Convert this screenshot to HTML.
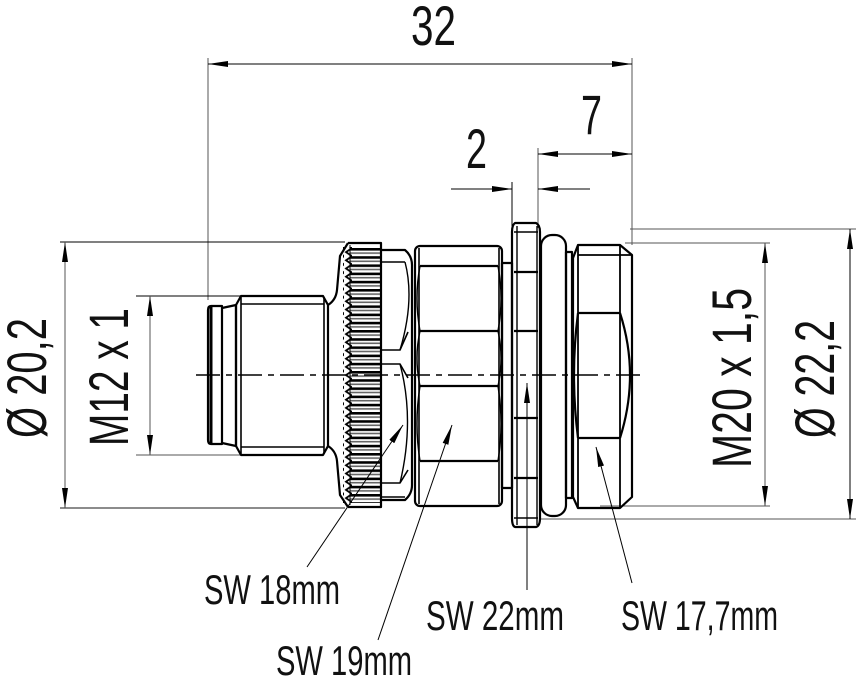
<!DOCTYPE html>
<html><head><meta charset="utf-8"><style>
html,body{margin:0;padding:0;background:#fff;}
svg{display:block;}
text{font-family:"Liberation Sans",sans-serif;fill:#111;}
</style></head><body>
<svg width="856" height="681" viewBox="0 0 856 681" xmlns="http://www.w3.org/2000/svg">
<defs>
<marker id="a" viewBox="0 0 20 6" refX="20" refY="3" markerWidth="20" markerHeight="6" markerUnits="userSpaceOnUse" orient="auto-start-reverse"><path d="M0,0 L20,3 L0,6 Z" fill="#000"/></marker>
<pattern id="stripes" x="0" y="248" width="10" height="8.2" patternUnits="userSpaceOnUse"><rect width="10" height="8.2" fill="#fff"/><rect y="0" width="10" height="2.6" fill="#000"/><rect y="4.3" width="10" height="1.6" fill="#666"/></pattern>
<pattern id="teeth" x="344" y="248" width="8" height="8.2" patternUnits="userSpaceOnUse"><path d="M8,0 L2,4.1 L8,8.2" fill="none" stroke="#000" stroke-width="1.8"/></pattern>
</defs>

<g stroke="#000" fill="none" stroke-width="1">
<line x1="208" y1="58" x2="208" y2="300" stroke="#555"/>
<line x1="632" y1="58" x2="632" y2="245" stroke="#555"/>
<line x1="208" y1="64" x2="632" y2="64" marker-start="url(#a)" marker-end="url(#a)"/>
<line x1="538" y1="148" x2="538" y2="228" stroke="#555"/>
<line x1="538" y1="154" x2="632" y2="154" marker-start="url(#a)" marker-end="url(#a)"/>
<line x1="512" y1="182" x2="512" y2="226" stroke="#000"/>
<line x1="451" y1="189" x2="512" y2="189" marker-end="url(#a)"/>
<line x1="590" y1="189" x2="538" y2="189" marker-end="url(#a)"/>
<line x1="60" y1="242" x2="345" y2="242"/>
<line x1="60" y1="508" x2="345" y2="508" stroke="#666" stroke-width="1.5"/>
<line x1="65" y1="242" x2="65" y2="508" marker-start="url(#a)" marker-end="url(#a)" stroke="#555"/>
<line x1="136" y1="296" x2="240" y2="296"/>
<line x1="136" y1="455" x2="240" y2="455" stroke="#555"/>
<line x1="150" y1="296" x2="150" y2="455" marker-start="url(#a)" marker-end="url(#a)" stroke="#555"/>
<line x1="625" y1="243" x2="770" y2="243" stroke="#555"/>
<line x1="600" y1="506" x2="770" y2="506" stroke="#555"/>
<line x1="765" y1="243" x2="765" y2="506" marker-start="url(#a)" marker-end="url(#a)" stroke="#555"/>
<line x1="630" y1="229" x2="856" y2="229" stroke="#555"/>
<line x1="540" y1="519" x2="856" y2="519" stroke="#555"/>
<line x1="850" y1="229" x2="850" y2="519" marker-start="url(#a)" marker-end="url(#a)"/>
</g>

<g stroke="#000" fill="none" stroke-width="2.2" stroke-linejoin="round">
<path d="M222,306 L211,306 Q208,306 208,310 L208,440 Q208,444 211,444 L222,444 Z"/>
<line x1="211" y1="307" x2="211" y2="443" stroke-width="3"/>
<path d="M222,308 L236,305 L236,446 L222,443"/>
<path d="M236,305 L241,296 L323,296 L328,305 L328,446 L323,455 L241,455 L236,446 Z"/>
<line x1="241" y1="304" x2="324" y2="304" stroke-width="1.6"/>
<line x1="241" y1="447" x2="324" y2="447" stroke-width="1.6"/>
<line x1="241" y1="297" x2="241" y2="454" stroke-width="1.6"/>
<line x1="324" y1="297" x2="324" y2="454" stroke-width="1.6"/>
<path d="M328,305 Q336,300 337,290 L340,256 L348,243"/>
<path d="M328,446 Q336,451 337,461 L340,495 L348,507"/>
<rect x="350" y="247" width="31" height="256" fill="url(#stripes)" stroke="none"/>
<rect x="343" y="247" width="9" height="256" fill="url(#teeth)" stroke="none"/>
<path d="M348,243 L381,243 L381,507 L348,507" />
<line x1="350" y1="245" x2="350" y2="505" stroke-width="1"/>
<path d="M381,250 L405,250 Q412,256 412,265 L412,485 Q412,494 405,500 L381,500"/>
<line x1="381" y1="262" x2="405" y2="262" stroke-width="1.6"/>
<path d="M381,350 L400,350 L408,332" stroke-width="1.6"/>
<path d="M381,364 L400,364 L408,378" stroke-width="1.6"/>
<path d="M381,483 L400,483 L408,470" stroke-width="1.6"/>
<line x1="381" y1="497" x2="405" y2="497" stroke-width="1.6"/>
<path d="M405,262 Q415,300 400,350 M400,364 Q415,420 400,483" stroke-width="1.4"/>
<rect x="415" y="246" width="87" height="260" rx="5"/>
<line x1="419" y1="248" x2="419" y2="504" stroke-width="1.6"/>
<line x1="499" y1="248" x2="499" y2="504" stroke-width="1.6"/>
<line x1="420" y1="266" x2="498" y2="266"/>
<line x1="420" y1="331" x2="498" y2="331"/>
<line x1="420" y1="386" x2="498" y2="386"/>
<line x1="420" y1="461" x2="498" y2="461"/>
<path d="M420,266 Q414,298 420,331 Q414,358 420,386 Q414,424 420,461" stroke-width="1.4"/>
<path d="M498,266 Q504,298 498,331 Q504,358 498,386 Q504,424 498,461" stroke-width="1.4"/>
<rect x="502" y="263" width="10" height="225"/>
<path d="M515,223 L536,223 Q540,225 540,232 L540,518 Q540,526 536,527 L515,527 Q512,526 512,518 L512,232 Q512,225 515,223 Z"/>
<line x1="517" y1="226" x2="517" y2="525" stroke-width="1.4"/>
<line x1="537" y1="226" x2="537" y2="525" stroke-width="1.4"/>
<line x1="514" y1="232" x2="538" y2="232" stroke-width="1.4"/>
<line x1="514" y1="272" x2="538" y2="272"/>
<line x1="514" y1="331" x2="538" y2="331"/>
<line x1="514" y1="418" x2="538" y2="418"/>
<line x1="514" y1="478" x2="538" y2="478"/>
<line x1="514" y1="518" x2="538" y2="518" stroke-width="1.4"/>
<rect x="541" y="235" width="25" height="281" rx="11"/>
<rect x="566" y="252" width="6" height="246"/>
<path d="M573,258 L578,245 L620,245 L632,255 L632,497 L620,508 L578,508 L573,497 Z"/>
<line x1="578" y1="245" x2="578" y2="508" stroke-width="1.8"/>
<line x1="620" y1="245" x2="620" y2="508" stroke-width="1.8"/>
<line x1="578" y1="255" x2="632" y2="255" stroke-width="1.8"/>
<line x1="578" y1="313" x2="620" y2="313"/>
<line x1="578" y1="438" x2="620" y2="438"/>
<path d="M578,313 Q570,375 578,438" />
<path d="M620,313 Q640,375 620,438" />
</g>

<line x1="196" y1="375" x2="645" y2="375" stroke="#000" stroke-width="1.4" stroke-dasharray="24,6,6,6"/>

<g stroke="#000" stroke-width="1">
<line x1="307" y1="567" x2="403" y2="425" marker-end="url(#a)"/>
<line x1="378" y1="640" x2="452" y2="425" marker-end="url(#a)"/>
<line x1="527" y1="590" x2="527" y2="383" marker-end="url(#a)"/>
<line x1="632" y1="583" x2="596" y2="447" marker-end="url(#a)"/>
</g>

<g font-size="56">
<text x="411" y="45" textLength="45" lengthAdjust="spacingAndGlyphs">32</text>
<text x="581" y="134" textLength="21" lengthAdjust="spacingAndGlyphs">7</text>
<text x="466" y="168" textLength="21" lengthAdjust="spacingAndGlyphs">2</text>
<text transform="translate(46,438) rotate(-90)" textLength="120" lengthAdjust="spacingAndGlyphs">Ø 20,2</text>
<text transform="translate(128,446) rotate(-90)" textLength="138" lengthAdjust="spacingAndGlyphs">M12 x 1</text>
<text transform="translate(751,468) rotate(-90)" textLength="180" lengthAdjust="spacingAndGlyphs">M20 x 1,5</text>
<text transform="translate(834,438) rotate(-90)" textLength="118" lengthAdjust="spacingAndGlyphs">Ø 22,2</text>
</g>
<g font-size="42">
<text x="204" y="604" textLength="136" lengthAdjust="spacingAndGlyphs">SW 18mm</text>
<text x="276" y="675" textLength="136" lengthAdjust="spacingAndGlyphs">SW 19mm</text>
<text x="426" y="630" textLength="138" lengthAdjust="spacingAndGlyphs">SW 22mm</text>
<text x="621" y="630" textLength="157" lengthAdjust="spacingAndGlyphs">SW 17,7mm</text>
</g>
</svg>
</body></html>
